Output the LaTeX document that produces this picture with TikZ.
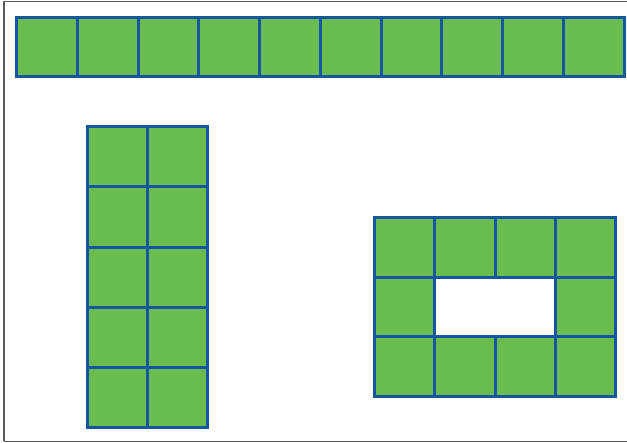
\documentclass[tikz,border=0pt]{standalone}
\usetikzlibrary{calc}
\definecolor{TGreen}{RGB}{ 104, 188, 80 }
\definecolor{TBlue}{HTML}{15569E}
\definecolor{FGray}{HTML}{5A5A5A}
\NewDocumentCommand{\Tile}{O{(0,0)} m m}{
    \begin{scope}[shift={#1}]
    \draw[TBlue, line width=3pt, fill=TGreen] (0,0) rectangle (#2,#3);
    \end{scope}
}

\begin{document}
\begin{tikzpicture}[x=1pt, y=-1pt]
\useasboundingbox (0,0) rectangle (627,443);
\draw[FGray, line width=1.3pt] (4,441.5) -- (4,1.5) -- (640,1.5);
\draw[FGray, line width=1.3pt] (4,441.5) -- (640,441.5);

% strip of ten
\foreach \i in {0,...,9}{
    \Tile[({16.5+60.75*\i},17.5)]{60.75}{59.5}
}

% two by five
\foreach \i in {0,1}{
    \foreach \j in {0,...,4}{
        \Tile[({87.5+60*\i},{126.5+60.3*\j})]{60}{60.3}
    }
}

% ring of ten
\foreach \i in {0,...,3}{
    \Tile[({374.5+60.3*\i},217.5)]{60.3}{59.7}
    \Tile[({374.5+60.3*\i},336.9)]{60.3}{59.7}
}
\Tile[(374.5,277.2)]{60.3}{59.7}
\Tile[(555.4,277.2)]{60.3}{59.7}
\end{tikzpicture}
\end{document}
